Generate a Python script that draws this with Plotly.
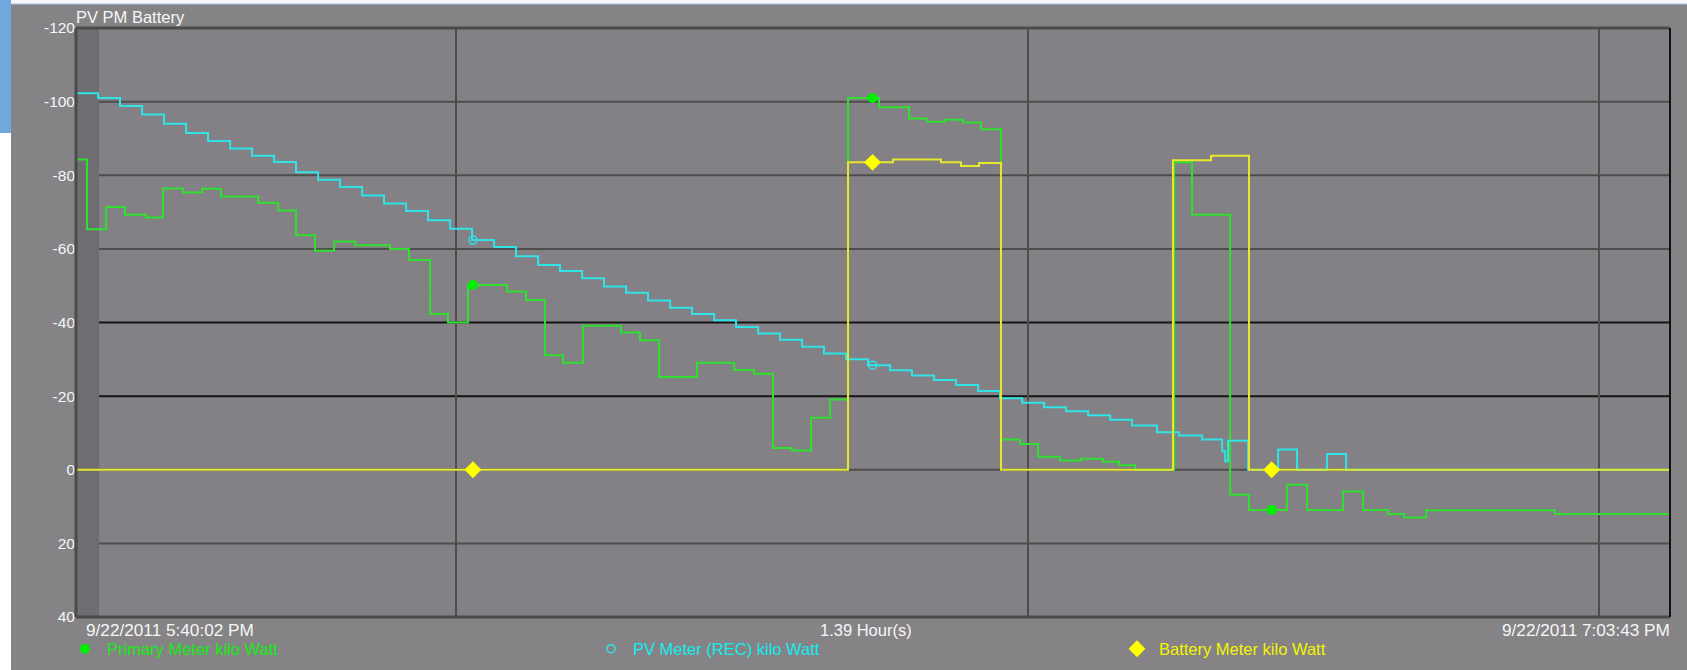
import pandas as pd
import plotly.graph_objects as go

START = "2011-09-22 17:40:02"
END = "2011-09-22 19:03:43"

# Elapsed minutes since start / values (kW); step series
primary_min = [0.00, 0.58, 1.58, 2.57, 3.68, 4.57, 5.62, 6.62, 7.61, 9.56, 10.61, 11.55, 12.55,
               13.55, 14.65, 16.49, 17.48, 18.59, 19.53, 20.58, 22.63, 23.63, 24.62, 25.57,
               26.62, 28.61, 29.61, 30.61, 32.60, 34.55, 35.60, 36.59, 37.59, 38.59, 39.59,
               40.53, 42.16, 43.73, 44.68, 45.63, 46.57, 47.51, 48.56, 49.56, 50.51, 51.66,
               52.76, 53.92, 54.76, 55.60, 57.65, 58.59, 60.59, 61.58, 63.57, 64.63, 66.52,
               67.57, 68.88, 69.72, 70.88, 77.65, 83.68]
primary_kw = [-84.3, -65.3, -71.4, -69.3, -68.5, -76.4, -75.3, -76.3, -74.2, -72.5, -70.4, -63.7,
              -59.5, -62.0, -61.0, -60.0, -57.0, -42.3, -40.0, -50.2, -48.4, -46.1, -31.1, -29.1,
              -39.1, -37.3, -35.2, -25.2, -29.1, -27.1, -26.1, -5.9, -5.2, -14.1, -19.1,
              -101.0, -98.5, -95.4, -94.5, -95.1, -94.3, -92.5, -8.2, -7.0, -3.5, -2.5,
              -3.0, -2.2, -1.2, 0.0, -83.5, -69.3, 6.8, 10.9, 4.1, 10.9, 5.9,
              10.9, 12.0, 13.0, 11.0, 12.0, 12.0]

pv_min = [0.00, 1.16, 2.31, 3.47, 4.62, 5.78, 6.93, 8.09, 9.24, 10.40, 11.55, 12.71, 13.86,
          15.02, 16.17, 17.33, 18.48, 19.64, 20.79, 21.95, 23.10, 24.26, 25.41, 26.57, 27.72,
          28.88, 30.03, 31.19, 32.34, 33.50, 34.65, 35.81, 36.96, 38.12, 39.27, 40.43, 41.58,
          42.74, 43.89, 45.05, 46.20, 47.36, 48.51, 49.67, 50.82, 51.98, 53.13, 54.29, 55.44,
          56.75, 57.91, 59.12, 60.17, 60.33, 60.48, 61.53, 63.11, 64.10, 65.68, 66.68, 83.68]
pv_kw = [-102.3, -101.0, -98.8, -96.5, -94.0, -91.5, -89.3, -87.3, -85.3, -83.6, -80.8, -78.8,
         -76.8, -74.5, -72.3, -70.3, -67.8, -65.5, -62.4, -60.5, -58.0, -55.6, -54.0, -52.0,
         -49.8, -48.1, -46.0, -44.0, -42.3, -40.6, -38.8, -37.0, -35.3, -33.4, -31.6, -30.0,
         -28.4, -27.0, -25.6, -24.4, -23.0, -21.4, -19.4, -18.2, -17.0, -15.9, -14.8, -13.6,
         -12.0, -10.2, -9.3, -8.2, -5.0, -2.3, -7.9, 0.0, -5.5, 0.0, -4.3, 0.0, 0.0]

battery_min = [0.00, 40.53, 42.89, 45.41, 46.46, 47.41, 48.56, 57.59, 59.59, 61.58, 83.68]
battery_kw = [0.0, -83.5, -84.3, -83.5, -82.5, -83.3, 0.0, -84.1, -85.3, 0.0, 0.0]

marker_min = [20.84, 41.82, 62.77]

y_ticks = [-120, -100, -80, -60, -40, -20, 0, 20, 40]
y_tick_labels = ["-120", "-100", "-80", "-60", "-40", "-20", "0", "20", "40"]
x_grid = ["2011-09-22 18:00:00", "2011-09-22 18:30:00", "2011-09-22 19:00:00"]

title_text = "PV PM Battery"
left_label = "9/22/2011 5:40:02 PM"
mid_label = "1.39 Hour(s)"
right_label = "9/22/2011 7:03:43 PM"
names = ["Primary Meter kilo Watt", "PV Meter (REC) kilo Watt", "Battery Meter kilo Watt"]

base = pd.Timestamp(START)


def to_time(mins):
    return [base + pd.to_timedelta(m, unit="m") for m in mins]


def step_value(mins, vals, t):
    v = vals[0]
    for m, val in zip(mins, vals):
        if m <= t:
            v = val
    return v


GREEN = "#2fe02f"
CYAN = "#2fe3e6"
YELLOW = "#e8e82a"
FONT = "Liberation Sans, Arial, sans-serif"
TXT = "#f6f6f6"

fig = go.Figure()

series = [
    (primary_min, primary_kw, GREEN, names[0], "#11ee11", dict(symbol="circle", size=10, color="#00ee00")),
    (pv_min, pv_kw, CYAN, names[1], "#11eeee", dict(symbol="circle-open", size=8, color="#2fe3e6", line=dict(width=1.5))),
    (battery_min, battery_kw, YELLOW, names[2], "#f4f400", dict(symbol="diamond", size=13, color="#ffff00")),
]

for mins, vals, col, nm, txtcol, mk in series:
    fig.add_trace(go.Scatter(x=to_time(mins), y=vals, mode="lines", line=dict(color=col, width=2, shape="hv"),
                             showlegend=False, hoverinfo="skip"))

for mins, vals, col, nm, txtcol, mk in series:
    fig.add_trace(go.Scatter(x=to_time(marker_min), y=[step_value(mins, vals, t) for t in marker_min],
                             mode="markers", marker=mk,
                             name='<span style="color:%s">%s</span>' % (txtcol, nm)))

# horizontal grid lines
grid_colors = {-40: "#151515", -20: "#151515"}
for yv in y_ticks[1:-1]:
    fig.add_shape(type="line", xref="paper", x0=0, x1=1, yref="y", y0=yv, y1=yv,
                  line=dict(color=grid_colors.get(yv, "#4d4e4c"), width=2), layer="below")

# darker band at start
fig.add_shape(type="rect", xref="x", yref="paper", x0=to_time([0])[0], x1=to_time([1.21])[0], y0=0, y1=1,
              fillcolor="#6f6d71", line=dict(width=0), layer="below")

# borders
fig.add_shape(type="line", xref="paper", yref="paper", x0=0, x1=1, y0=1, y1=1, line=dict(color="#4b4c4a", width=3))
fig.add_shape(type="line", xref="paper", yref="paper", x0=0, x1=1, y0=0, y1=0, line=dict(color="#4b4c4a", width=3))
fig.add_shape(type="line", xref="paper", yref="paper", x0=0, x1=0, y0=0, y1=1, line=dict(color="#4b4c4a", width=3))
fig.add_shape(type="line", xref="paper", yref="paper", x0=1, x1=1, y0=0, y1=1, line=dict(color="#111111", width=2))

# screenshot frame pieces (left strip and top band)
PW, PH = 1594.0, 589.0
def px_x(p):
    return (p - 76) / PW
def px_y(p):
    return (617 - p) / PH

fig.add_shape(type="rect", xref="paper", yref="paper", x0=px_x(0), x1=px_x(11), y0=px_y(133), y1=px_y(0),
              fillcolor="#6fa8dc", line=dict(width=0), layer="below")
fig.add_shape(type="rect", xref="paper", yref="paper", x0=px_x(0), x1=px_x(11), y0=px_y(670), y1=px_y(133),
              fillcolor="#ffffff", line=dict(width=0), layer="below")
fig.add_shape(type="rect", xref="paper", yref="paper", x0=px_x(11), x1=px_x(1687), y0=px_y(4), y1=px_y(0),
              fillcolor="#f4f6fa", line=dict(width=0), layer="below")
fig.add_shape(type="line", xref="paper", yref="paper", x0=px_x(11), x1=px_x(1687), y0=px_y(4), y1=px_y(4),
              line=dict(color="#a9c3e8", width=1), layer="below")

fig.add_annotation(text=title_text, xref="paper", yref="paper", x=px_x(74), y=px_y(17), xanchor="left",
                   yanchor="middle", showarrow=False, font=dict(family=FONT, size=16.5, color=TXT))
fig.add_annotation(text=left_label, xref="paper", yref="paper", x=px_x(84), y=px_y(630), xanchor="left",
                   yanchor="middle", showarrow=False, font=dict(family=FONT, size=17.2, color=TXT))
fig.add_annotation(text=mid_label, xref="paper", yref="paper", x=px_x(866), y=px_y(630), xanchor="center",
                   yanchor="middle", showarrow=False, font=dict(family=FONT, size=16.5, color=TXT))
fig.add_annotation(text=right_label, xref="paper", yref="paper", x=px_x(1672), y=px_y(630), xanchor="right",
                   yanchor="middle", showarrow=False, font=dict(family=FONT, size=17.2, color=TXT))

fig.update_layout(
    width=1687, height=670,
    margin=dict(l=76, r=17, t=28, b=53, autoexpand=False),
    paper_bgcolor="#858386",
    plot_bgcolor="#838185",
    font=dict(family=FONT, size=15, color=TXT),
    showlegend=True,
    legend=dict(orientation="h", x=px_x(63), y=px_y(649), xanchor="left", yanchor="middle",
                entrywidth=477, entrywidthmode="pixels", itemwidth=34, bgcolor="rgba(0,0,0,0)",
                font=dict(family=FONT, size=16.5, color="#11ee11"), itemclick=False),
    xaxis=dict(type="date", range=[START, END], tickvals=x_grid, showticklabels=False, showgrid=True,
               gridcolor="#4d4e4c", gridwidth=2, zeroline=False, ticks="", showline=False, fixedrange=True),
    yaxis=dict(range=[40, -120], tickvals=y_ticks, ticktext=y_tick_labels, showgrid=False, zeroline=False,
               ticks="", showline=False, tickfont=dict(family=FONT, size=15.5, color=TXT),
               ticklabelstandoff=0, automargin=False),
)

fig.write_html("out.html", config={"displayModeBar": False},
               post_script="document.body.style.margin='0';document.body.style.overflow='hidden';")
